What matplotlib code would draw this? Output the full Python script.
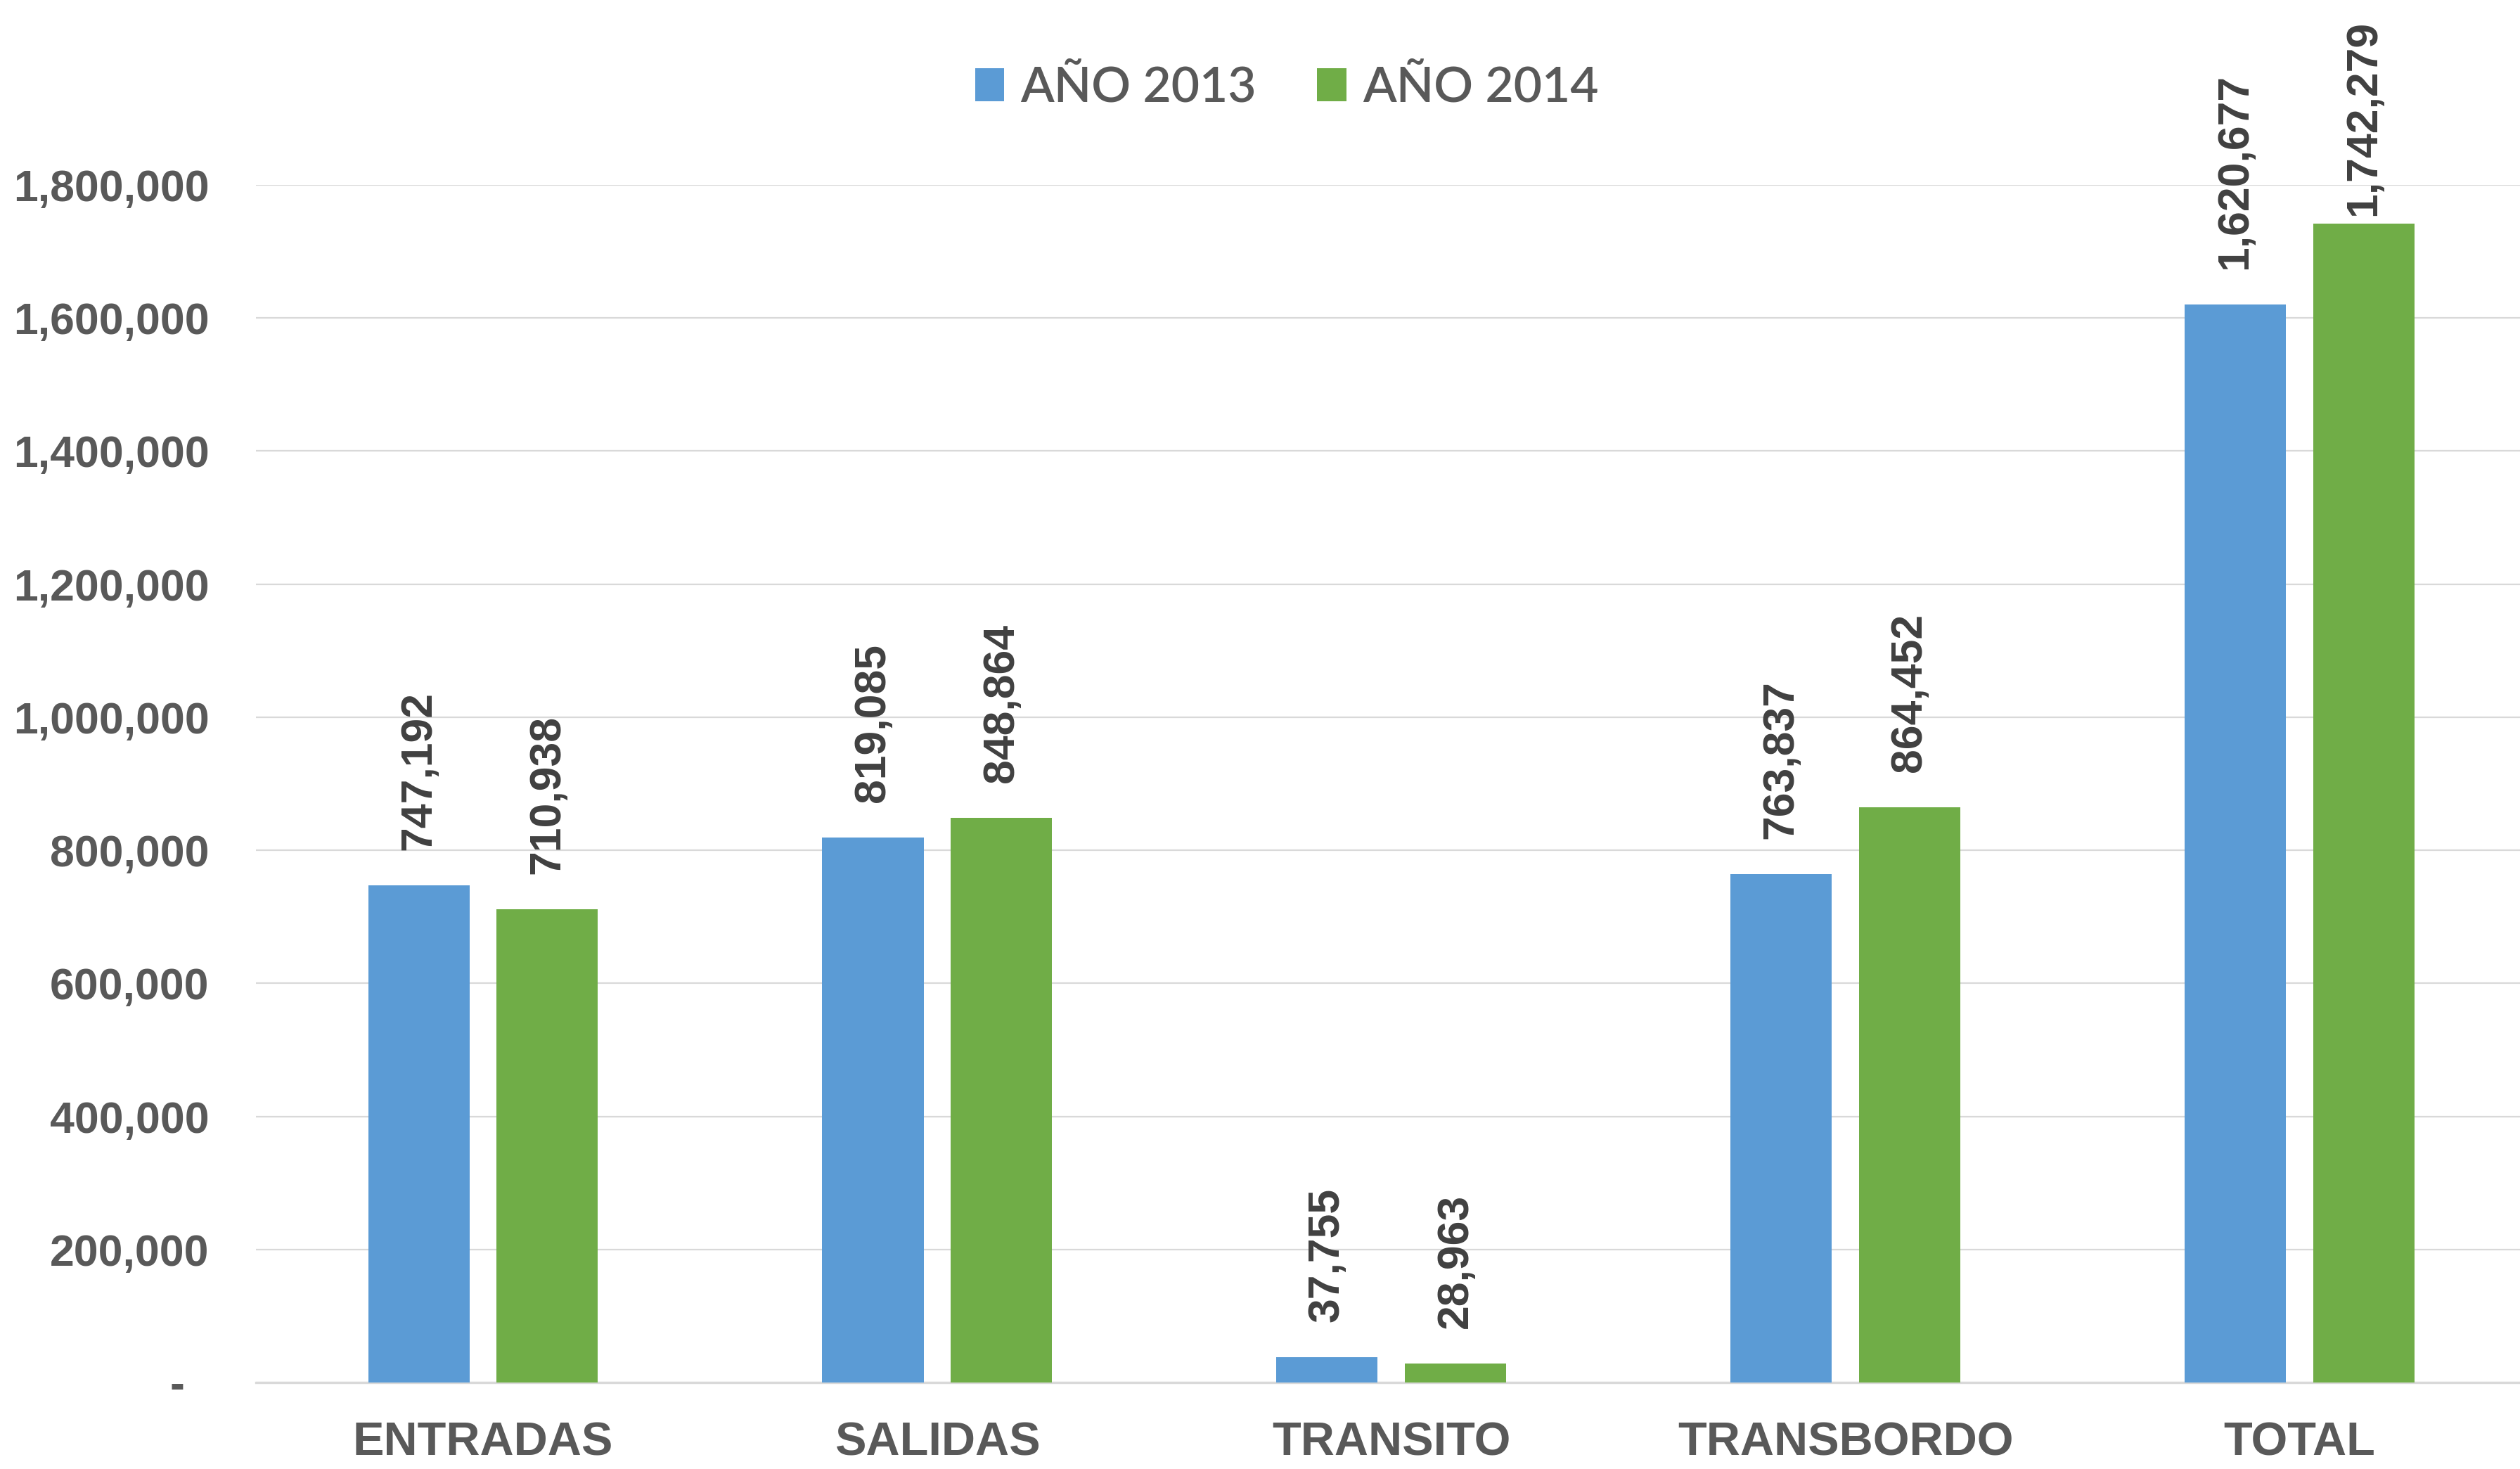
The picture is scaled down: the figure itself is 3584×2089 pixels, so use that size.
import matplotlib.pyplot as plt
import numpy as np
from matplotlib.ticker import FuncFormatter

# Data
categorias = ["ENTRADAS", "SALIDAS", "TRANSITO", "TRANSBORDO", "TOTAL"]
anio_2013 = [747192, 819085, 37755, 763837, 1620677]
anio_2014 = [710938, 848864, 28963, 864452, 1742279]
series_names = ["AÑO 2013", "AÑO 2014"]
yticks = [0, 200000, 400000, 600000, 800000, 1000000, 1200000, 1400000, 1600000, 1800000]

blue = "#5B9BD5"
green = "#70AD47"
gray_txt = "#595959"
dark_txt = "#404040"
grid_col = "#D9D9D9"

fig = plt.figure(figsize=(17.92, 10.445), dpi=200)
ax = fig.add_axes([0.1016, 0.0589, 0.901, 0.8152])

x = np.arange(len(categorias))
w = 0.223
off = w / 2 + 0.03

b1 = ax.bar(x - off, anio_2013, w, color=blue, label=series_names[0], zorder=3)
b2 = ax.bar(x + off, anio_2014, w, color=green, label=series_names[1], zorder=3)

# Value labels, rotated; the tallest one gets pushed down like Excel does
for bars in (b1, b2):
    for rect in bars:
        h = rect.get_height()
        gap = 4 if h > 1700000 else 18
        ax.annotate(f"{h:,.0f}", (rect.get_x() + rect.get_width() / 2, h),
                    xytext=(0, gap), textcoords="offset points",
                    rotation=90, ha="center", va="bottom",
                    fontsize=22.5, fontweight="bold", color=dark_txt,
                    family="Liberation Sans", clip_on=False)

ax.set_xlim(-0.5, len(categorias) - 0.5)
ax.set_ylim(0, 1800000)
ax.set_yticks(yticks)
ax.yaxis.set_major_formatter(FuncFormatter(lambda v, p: "-  " if v == 0 else f"{v:,.0f}"))
ax.set_xticks(x)
ax.set_xticklabels(categorias)

ax.grid(axis="y", color=grid_col, linewidth=0.8, zorder=0)
for s in ["top", "right", "left"]:
    ax.spines[s].set_visible(False)
ax.spines["bottom"].set_color(grid_col)
ax.spines["bottom"].set_linewidth(1.2)

ax.tick_params(axis="y", length=0, pad=24, labelsize=22.5, labelcolor=gray_txt)
ax.tick_params(axis="x", length=0, pad=20, labelsize=24, labelcolor=gray_txt)
for lab in ax.get_yticklabels() + ax.get_xticklabels():
    lab.set_fontweight("bold")
    lab.set_family("Liberation Sans")

fig.legend(loc="center", bbox_to_anchor=(0.5106, 0.940), ncol=2, frameon=False,
           prop={"family": "Lato", "size": 25, "weight": "semibold"},
           labelcolor=gray_txt, handlelength=0.6, handleheight=0.65,
           handletextpad=0.33, columnspacing=1.25)

fig.savefig("out.png", dpi=200)
